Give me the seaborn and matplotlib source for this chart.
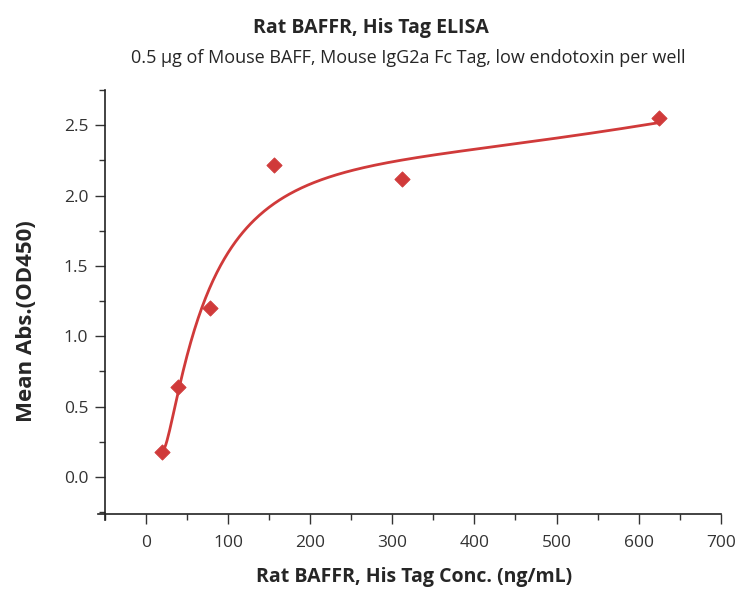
import numpy as np
import pandas as pd
import matplotlib
matplotlib.use('Agg')
import matplotlib.pyplot as plt
import seaborn as sns
from matplotlib.ticker import MultipleLocator, FormatStrFormatter

# Datos
conc = [19.5, 39, 78, 156, 312, 625]
od450 = [0.18, 0.64, 1.20, 2.22, 2.12, 2.55]

sns.set_style('ticks')
plt.rcParams['font.family'] = ['Open Sans', 'DejaVu Sans']

df = pd.DataFrame({'conc': conc, 'od': od450})

# curva suave ajustada a los puntos (polinomio grado 4 en log de la concentracion)
coef = np.polyfit(np.log10(df['conc']), df['od'], 4, w=1 / np.sqrt(df['od']))
xs = np.linspace(min(conc), max(conc), 400)
fit = pd.DataFrame({'conc': xs, 'od': np.polyval(coef, np.log10(xs))})

red = '#D03A3A'
fig = plt.figure(figsize=(7.38, 5.94), dpi=100)
ax = fig.add_axes([0.1423, 0.1347, 0.8343, 0.7138])

sns.lineplot(x='conc', y='od', data=fit, color=red, linewidth=2, ax=ax)
sns.scatterplot(x='conc', y='od', data=df, color=red, marker='D', s=60,
                edgecolor=red, ax=ax, zorder=3)

ax.set_xlim(-50, 700)
ax.set_ylim(-0.263, 2.75)
ax.xaxis.set_major_locator(MultipleLocator(100))
ax.xaxis.set_minor_locator(MultipleLocator(50))
ax.yaxis.set_major_locator(MultipleLocator(0.5))
ax.yaxis.set_minor_locator(MultipleLocator(0.25))
ax.yaxis.set_major_formatter(FormatStrFormatter('%.1f'))
ax.tick_params(which='major', length=7, width=1, labelsize=12.5, colors='#333333')
ax.tick_params(which='minor', length=4, width=1, colors='#333333')
ax.tick_params(axis='x', which='major', pad=8)
ax.tick_params(axis='y', which='major', pad=5)
sns.despine(ax=ax)
for s in ['left', 'bottom']:
    ax.spines[s].set_linewidth(1.2)
    ax.spines[s].set_color('#222222')
# los ejes se cruzan un poco en la esquina
ax.spines['left'].set_bounds(-0.305, 2.75)
ax.spines['bottom'].set_bounds(-59, 700)

ax.set_xlabel('')
ax.set_ylabel('')
fig.text(414 / 738, 1 - 577 / 594, 'Rat BAFFR, His Tag Conc. (ng/mL)', ha='center', va='center',
         fontsize=14, fontweight='bold')
fig.text(27 / 738, 1 - 321 / 594, 'Mean Abs.(OD450)', ha='center', va='center', rotation=90,
         fontsize=16, fontweight='bold')

fig.text(0.503, 1 - 33 / 594, 'Rat BAFFR, His Tag ELISA', ha='center', va='baseline',
         fontsize=14, fontweight='bold')
fig.text(0.553, 1 - 63 / 594, '0.5 μg of Mouse BAFF, Mouse IgG2a Fc Tag, low endotoxin per well',
         ha='center', va='baseline', fontsize=13)

plt.savefig('out.png', dpi=100)
